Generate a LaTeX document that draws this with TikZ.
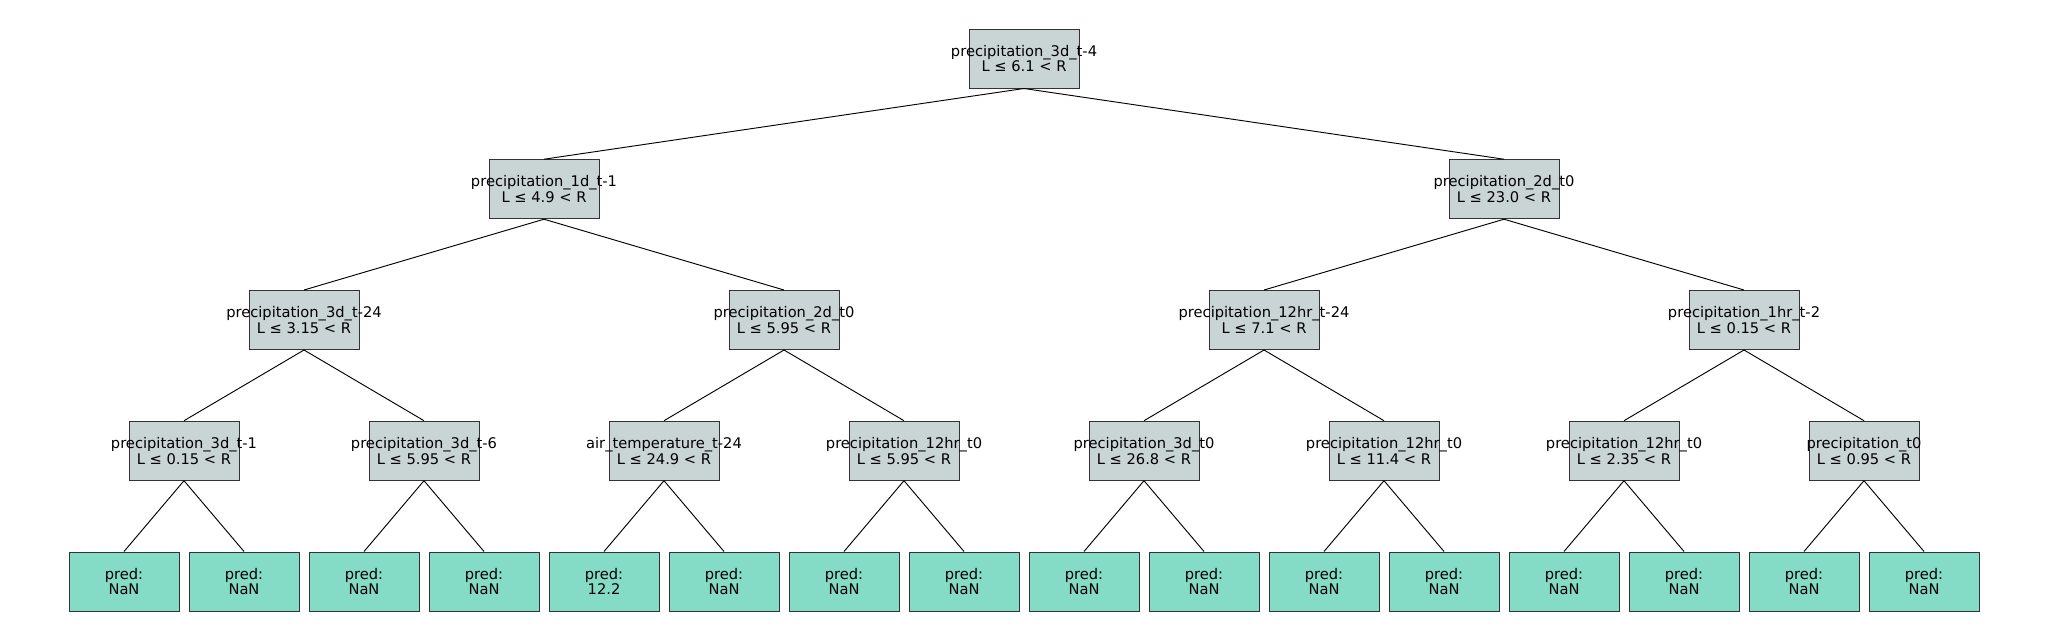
\documentclass[tikz,border=0pt]{standalone}
\usepackage{fontspec}
\setmainfont{DejaVu Sans}
\usepackage{tikz}
\definecolor{splitgray}{RGB}{201, 212, 213}
\definecolor{leafgreen}{RGB}{133, 220, 198}
\definecolor{rimgray}{RGB}{51, 51, 51}

\begin{document}
\begin{tikzpicture}[x=0.75pt, y=-0.75pt,
        split/.style={draw=rimgray, fill=splitgray, line width=0.75pt, minimum width=82.5pt, minimum height=44.25pt, inner sep=0pt},
        leaf/.style={split, fill=leafgreen, align=center, font=\fontsize{11pt}{11.8pt}\selectfont},
        txt/.style={align=center, inner sep=0pt, font=\fontsize{11pt}{11.8pt}\selectfont}]
            \fill[white] (0,0) rectangle (2048,640);
            \useasboundingbox (0,0) rectangle (2048,640);
            % splits
            \node[split, label={[txt]center:{precipitation\_3d\_t-4\\L ≤ 6.1 < R}}]      (n1)  at (1024, 58.5) {};
            \node[split, label={[txt]center:{precipitation\_1d\_t-1\\L ≤ 4.9 < R}}]      (n2)  at ( 544,189.2) {};
            \node[split, label={[txt]center:{precipitation\_2d\_t0\\L ≤ 23.0 < R}}]      (n3)  at (1504,189.2) {};
            \node[split, label={[txt]center:{precipitation\_3d\_t-24\\L ≤ 3.15 < R}}]    (n4)  at ( 304,320.0) {};
            \node[split, label={[txt]center:{precipitation\_2d\_t0\\L ≤ 5.95 < R}}]      (n5)  at ( 784,320.0) {};
            \node[split, label={[txt]center:{precipitation\_12hr\_t-24\\L ≤ 7.1 < R}}]   (n6)  at (1264,320.0) {};
            \node[split, label={[txt]center:{precipitation\_1hr\_t-2\\L ≤ 0.15 < R}}]    (n7)  at (1744,320.0) {};
            \node[split, label={[txt]center:{precipitation\_3d\_t-1\\L ≤ 0.15 < R}}]     (n8)  at ( 184,450.7) {};
            \node[split, label={[txt]center:{precipitation\_3d\_t-6\\L ≤ 5.95 < R}}]     (n9)  at ( 424,450.7) {};
            \node[split, label={[txt]center:{air\_temperature\_t-24\\L ≤ 24.9 < R}}]     (n10) at ( 664,450.7) {};
            \node[split, label={[txt]center:{precipitation\_12hr\_t0\\L ≤ 5.95 < R}}]    (n11) at ( 904,450.7) {};
            \node[split, label={[txt]center:{precipitation\_3d\_t0\\L ≤ 26.8 < R}}]      (n12) at (1144,450.7) {};
            \node[split, label={[txt]center:{precipitation\_12hr\_t0\\L ≤ 11.4 < R}}]    (n13) at (1384,450.7) {};
            \node[split, label={[txt]center:{precipitation\_12hr\_t0\\L ≤ 2.35 < R}}]    (n14) at (1624,450.7) {};
            \node[split, label={[txt]center:{precipitation\_t0\\L ≤ 0.95 < R}}]          (n15) at (1864,450.7) {};
            % leaves
            \node[leaf] (n16) at ( 124,581.5) {pred:\\NaN};
            \node[leaf] (n17) at ( 244,581.5) {pred:\\NaN};
            \node[leaf] (n18) at ( 364,581.5) {pred:\\NaN};
            \node[leaf] (n19) at ( 484,581.5) {pred:\\NaN};
            \node[leaf] (n20) at ( 604,581.5) {pred:\\12.2};
            \node[leaf] (n21) at ( 724,581.5) {pred:\\NaN};
            \node[leaf] (n22) at ( 844,581.5) {pred:\\NaN};
            \node[leaf] (n23) at ( 964,581.5) {pred:\\NaN};
            \node[leaf] (n24) at (1084,581.5) {pred:\\NaN};
            \node[leaf] (n25) at (1204,581.5) {pred:\\NaN};
            \node[leaf] (n26) at (1324,581.5) {pred:\\NaN};
            \node[leaf] (n27) at (1444,581.5) {pred:\\NaN};
            \node[leaf] (n28) at (1564,581.5) {pred:\\NaN};
            \node[leaf] (n29) at (1684,581.5) {pred:\\NaN};
            \node[leaf] (n30) at (1804,581.5) {pred:\\NaN};
            \node[leaf] (n31) at (1924,581.5) {pred:\\NaN};
            % branches
            \foreach \c in {2,...,31} {
                \pgfmathtruncatemacro{\p}{\c/2}
                \draw[black, line width=0.7pt] (n\p.south) -- (n\c.north);
            }
        \end{tikzpicture}
\end{document}
